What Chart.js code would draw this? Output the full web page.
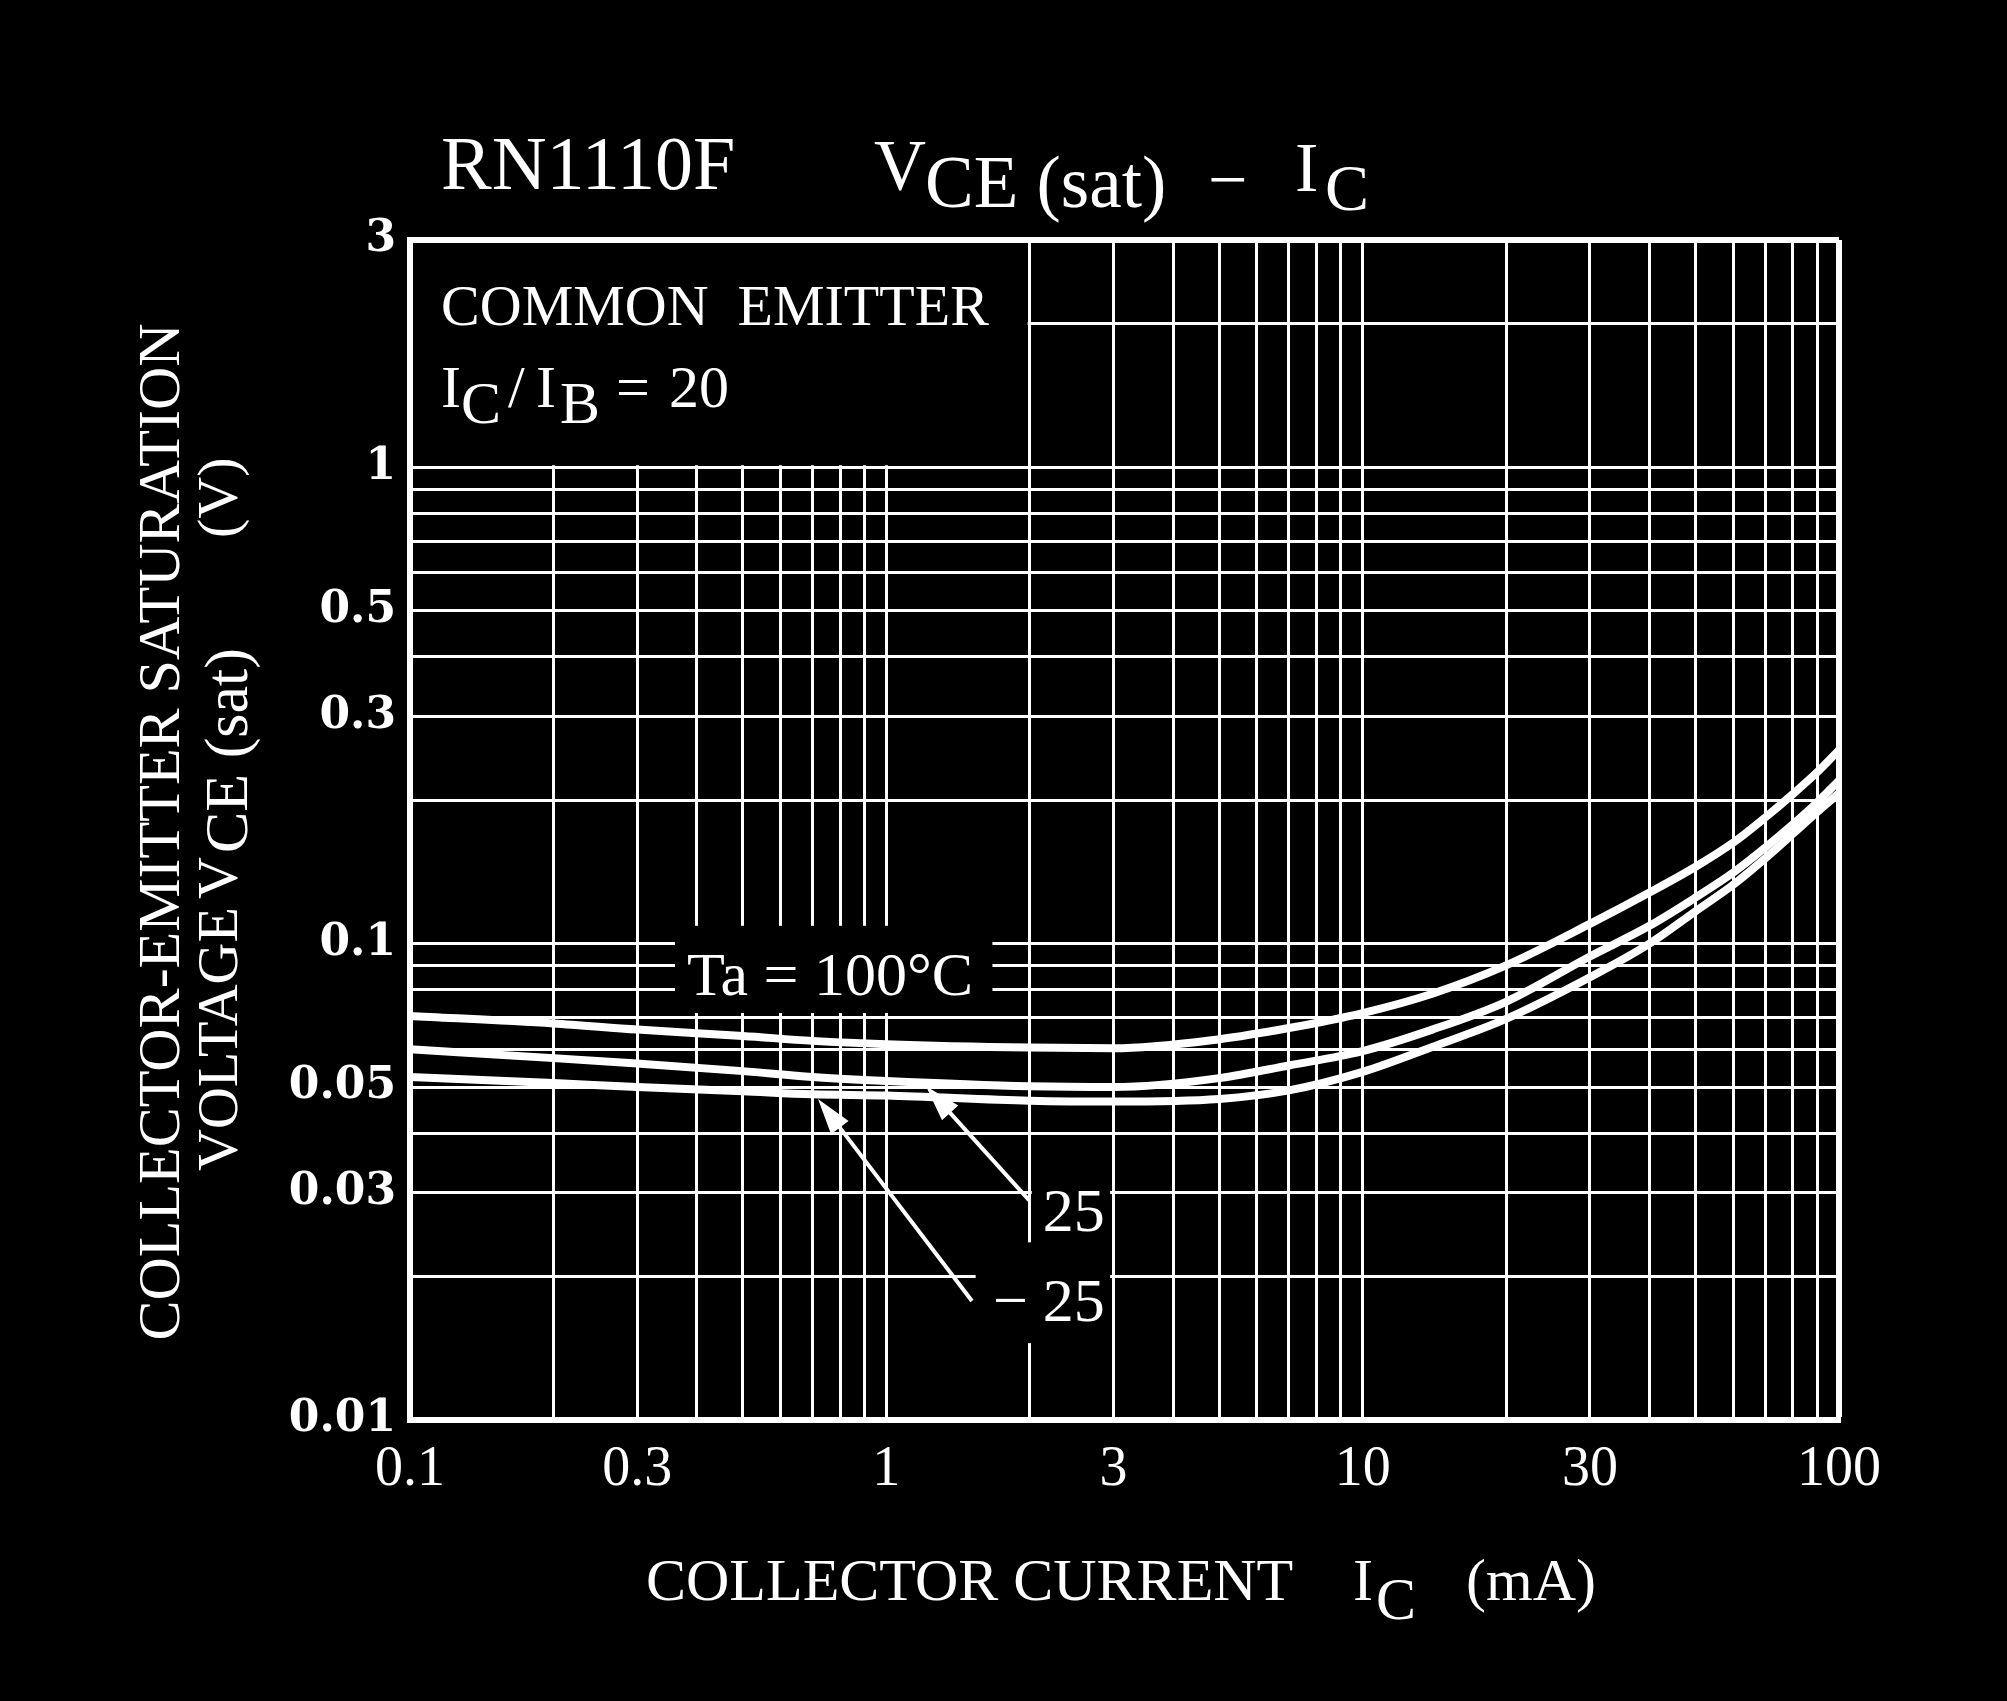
<!DOCTYPE html>
<html lang="en">
<head>
<meta charset="UTF-8">
<title>RN1110F VCE(sat) - IC</title>
<script src="https://cdn.jsdelivr.net/npm/chart.js@4.4.1/dist/chart.umd.min.js"></script>
<style>
  html, body { margin: 0; padding: 0; background: #000; }
  #wrap { width: 2007px; height: 1701px; }
</style>
</head>
<body>
<div id="wrap"><canvas id="grafico" width="2007" height="1701"></canvas></div>
<script>
// Corriente de colector IC (mA)
const corriente = [0.1, 0.2, 0.3, 0.5, 0.7, 1, 2, 3, 5, 7, 10, 14, 20, 30, 40, 50, 60, 70, 80, 90, 100];

// VCE(sat) (V) para cada temperatura
const vceTa100 = [0.0705, 0.068, 0.066, 0.064, 0.0625, 0.0615, 0.0605, 0.0603, 0.063, 0.0665, 0.0715, 0.0785, 0.090, 0.110, 0.128, 0.145, 0.163, 0.184, 0.206, 0.229, 0.255];
const vceTa25 = [0.060, 0.0575, 0.056, 0.054, 0.0525, 0.0515, 0.0502, 0.050, 0.0522, 0.0555, 0.0595, 0.066, 0.0755, 0.094, 0.109, 0.125, 0.141, 0.159, 0.178, 0.198, 0.220];
const vceTaM25 = [0.0525, 0.051, 0.050, 0.049, 0.0483, 0.048, 0.0468, 0.0466, 0.0472, 0.0492, 0.0538, 0.0607, 0.0695, 0.085, 0.100, 0.117, 0.133, 0.151, 0.170, 0.189, 0.207];

// Rejilla y etiquetas de los ejes
const gridX = [0.1, 0.2, 0.3, 0.4, 0.5, 0.6, 0.7, 0.8, 0.9, 1, 2, 3, 4, 5, 6, 7, 8, 9, 10, 20, 30, 40, 50, 60, 70, 80, 90, 100];
const gridY = [0.01, 0.02, 0.03, 0.04, 0.05, 0.06, 0.07, 0.08, 0.09, 0.1, 0.2, 0.3, 0.4, 0.5, 0.6, 0.7, 0.8, 0.9, 1, 2, 3];
const etiquetasX = [0.1, 0.3, 1, 3, 10, 30, 100];
const etiquetasY = [0.01, 0.03, 0.05, 0.1, 0.3, 0.5, 1, 3];

const blanco = "#ffffff";
const serif = "'Liberation Serif', 'DejaVu Serif', serif";

// Zonas donde la rejilla queda tapada por los textos (en mA / V)
const mascaras = [
  { x0: 0.1, x1: 1.98, y0: 1.01, y1: 3 },
  { x0: 0.36, x1: 1.67, y0: 0.0715, y1: 0.109 },
  { x0: 2.02, x1: 2.95, y0: 0.0235, y1: 0.033 },
  { x0: 1.54, x1: 2.95, y0: 0.0145, y1: 0.0236 }
];

function serie(valores) {
  return corriente.map((x, i) => ({ x, y: valores[i] }));
}

// Texto con partes (subíndices)
function escribir(ctx, x, y, partes) {
  partes.forEach(p => {
    ctx.font = p.font;
    ctx.fillText(p.t, x + p.dx, y + (p.dy || 0));
  });
}

function flecha(ctx, x1, y1, x2, y2) {
  const ang = Math.atan2(y2 - y1, x2 - x1);
  const largo = 36, ancho = 11;
  const c = Math.cos(ang), s = Math.sin(ang);
  ctx.lineWidth = 4;
  ctx.beginPath();
  ctx.moveTo(x1, y1);
  ctx.lineTo(x2 - c * largo * 0.8, y2 - s * largo * 0.8);
  ctx.stroke();
  ctx.beginPath();
  ctx.moveTo(x2, y2);
  ctx.lineTo(x2 - largo * c + ancho * s, y2 - largo * s - ancho * c);
  ctx.lineTo(x2 - largo * c - ancho * s, y2 - largo * s + ancho * c);
  ctx.closePath();
  ctx.fill();
}

const pluginTextos = {
  id: "textos",
  beforeDatasetsDraw(chart) {
    const { ctx, chartArea: a, scales: { x, y } } = chart;
    ctx.save();
    ctx.fillStyle = "#000";
    mascaras.forEach(m => {
      const l = Math.max(x.getPixelForValue(m.x0), a.left + 3);
      const r = Math.min(x.getPixelForValue(m.x1), a.right - 3);
      const t = Math.max(y.getPixelForValue(m.y1), a.top + 3);
      const b = Math.min(y.getPixelForValue(m.y0), a.bottom - 3);
      ctx.fillRect(l, t, r - l, b - t);
    });
    ctx.restore();
  },
  afterDraw(chart) {
    const { ctx, scales: { x, y } } = chart;
    const px = v => x.getPixelForValue(v);
    const py = v => y.getPixelForValue(v);
    ctx.save();
    ctx.fillStyle = blanco;
    ctx.strokeStyle = blanco;
    ctx.textAlign = "left";
    ctx.textBaseline = "alphabetic";

    // Título
    escribir(ctx, 0, 0, [
      { t: "RN1110F", font: `76px ${serif}`, dx: 441, dy: 189 },
      { t: "V", font: `72px ${serif}`, dx: 874, dy: 189 },
      { t: "CE (sat)", font: `73px ${serif}`, dx: 925, dy: 207 },
      { t: "\u2212", font: `70px ${serif}`, dx: 1208, dy: 203 },
      { t: "I", font: `70px ${serif}`, dx: 1295, dy: 191 },
      { t: "C", font: `66px ${serif}`, dx: 1325, dy: 210 }
    ]);

    // Título eje X
    const f60 = `60px ${serif}`;
    escribir(ctx, 0, 0, [
      { t: "COLLECTOR CURRENT", font: f60, dx: 646, dy: 1600 },
      { t: "I", font: f60, dx: 1353, dy: 1600 },
      { t: "C", font: f60, dx: 1376, dy: 1619 },
      { t: "(mA)", font: f60, dx: 1466, dy: 1600 }
    ]);

    // Título eje Y (girado)
    ctx.save();
    ctx.translate(179, 832);
    ctx.rotate(-Math.PI / 2);
    ctx.font = f60;
    ctx.textAlign = "center";
    ctx.fillText("COLLECTOR-EMITTER SATURATION", 0, 0);
    ctx.restore();
    const f58 = `58px ${serif}`;
    ctx.save();
    ctx.translate(237, 1171);
    ctx.rotate(-Math.PI / 2);
    escribir(ctx, 0, 0, [
      { t: "VOLTAGE", font: f58, dx: 0 },
      { t: "V", font: f58, dx: 272 },
      { t: "CE (sat)", font: `62px ${serif}`, dx: 318, dy: 10 },
      { t: "(V)", font: f58, dx: 633 }
    ]);
    ctx.restore();

    // Condiciones
    const x0 = px(0.1162);
    escribir(ctx, x0, py(1.99), [{ t: "COMMON  EMITTER", font: f58, dx: 0 }]);
    escribir(ctx, x0, py(1.338), [
      { t: "I", font: f60, dx: 0 },
      { t: "C", font: f60, dx: 20, dy: 16 },
      { t: "/", font: f60, dx: 67 },
      { t: "I", font: f60, dx: 95 },
      { t: "B", font: f60, dx: 119, dy: 16 },
      { t: "=", font: f60, dx: 175 },
      { t: "20", font: f60, dx: 228 }
    ]);

    // Etiquetas de temperatura
    const f62 = `62px ${serif}`;
    escribir(ctx, px(0.3815), py(0.078), [{ t: "Ta = 100\u00B0C", font: f62, dx: 0 }]);
    escribir(ctx, px(2.13), py(0.0249), [{ t: "25", font: f62, dx: 0 }]);
    escribir(ctx, px(1.675), py(0.01613), [{ t: "\u2212", font: f62, dx: 0 }]);
    escribir(ctx, px(2.13), py(0.01613), [{ t: "25", font: f62, dx: 0 }]);

    // Flechas
    flecha(ctx, px(1.993), py(0.02895), px(1.2115), py(0.0502));
    flecha(ctx, px(1.513), py(0.01777), px(0.7187), py(0.0472));
    ctx.restore();
  }
};

const estiloCurva = {
  borderColor: blanco,
  borderWidth: 8,
  pointRadius: 0,
  fill: false,
  cubicInterpolationMode: "monotone"
};

const ctx = document.getElementById("grafico").getContext("2d");
Chart.defaults.color = blanco;

new Chart(ctx, {
  type: "line",
  data: {
    datasets: [
      { label: "Ta = 100°C", data: serie(vceTa100), ...estiloCurva },
      { label: "Ta = 25°C", data: serie(vceTa25), ...estiloCurva },
      { label: "Ta = -25°C", data: serie(vceTaM25), ...estiloCurva }
    ]
  },
  options: {
    responsive: false,
    animation: false,
    devicePixelRatio: 1,
    layout: { padding: { left: 260, top: 240, right: 168, bottom: 161 } },
    plugins: { legend: { display: false }, tooltip: { enabled: false } },
    scales: {
      x: {
        type: "logarithmic",
        min: 0.1,
        max: 100,
        afterBuildTicks: s => { s.ticks = gridX.map(v => ({ value: v })); },
        afterFit: s => { s.height = 120; },
        ticks: {
          autoSkip: false,
          maxRotation: 0,
          padding: 17,
          color: blanco,
          font: { family: "Liberation Serif", size: 56 },
          callback: v => etiquetasX.includes(v) ? String(v) : ""
        },
        grid: {
          color: blanco,
          drawTicks: false,
          lineWidth: c => (c.tick && c.tick.value === 100) ? 6 : 3
        },
        border: { color: blanco, width: 6 }
      },
      y: {
        type: "logarithmic",
        min: 0.01,
        max: 3,
        afterBuildTicks: s => { s.ticks = gridY.map(v => ({ value: v })); },
        afterFit: s => { s.width = 150; },
        ticks: {
          autoSkip: false,
          padding: 14,
          color: blanco,
          font: { family: "DejaVu Serif", size: 44, weight: "bold" },
          callback: v => etiquetasY.includes(v) ? String(v) : ""
        },
        grid: {
          color: blanco,
          drawTicks: false,
          lineWidth: c => (c.tick && c.tick.value === 3) ? 6 : 3
        },
        border: { color: blanco, width: 6 }
      }
    }
  },
  plugins: [pluginTextos]
});
</script>
</body>
</html>
